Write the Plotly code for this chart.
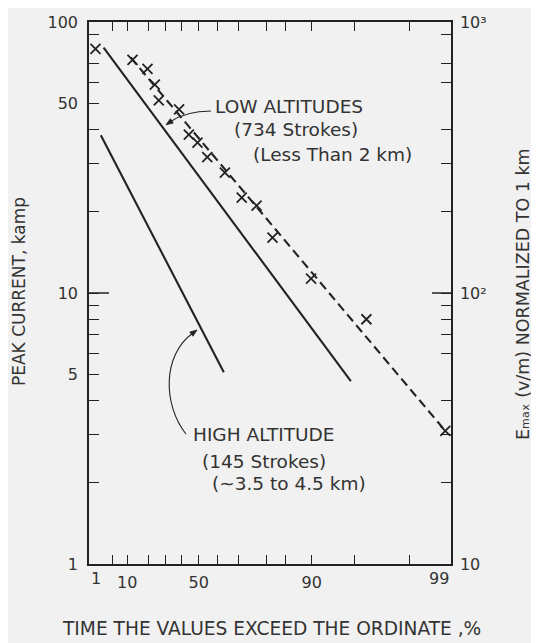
import math
from statistics import NormalDist
import plotly.graph_objects as go

# ---------------- data ----------------
low_alt_pct = [3.0, 94.7]
low_alt_kamp = [80.5, 4.73]

high_alt_pct = [2.5, 63.3]
high_alt_kamp = [38.2, 5.10]

obs_pct = [1.7, 12.2, 19.6, 23.7, 26.0, 38.3, 44.2, 49.3, 54.8, 63.8, 71.2, 76.7, 81.6, 89.9, 95.9, 98.9]
obs_kamp = [79.6, 72.5, 67.2, 58.7, 51.4, 47.6, 38.4, 35.9, 31.7, 27.8, 22.5, 21.0, 16.0, 11.3, 8.0, 3.1]

fit_pct = [11.4, 98.9]
fit_kamp = [74.0, 3.1]

x_tick_pct = [10, 50, 90]
x_tick_text = ["10", "50", "90"]
x_minor_pct = [1, 5, 20, 30, 40, 60, 70, 80, 85, 95, 98, 99]
x_range_pct = [1, 99]

y_tick_vals = [1, 5, 10, 50, 100]
y_tick_text = ["1", "5", "10", "50", "100"]
y_minor_vals = [2, 3, 4, 6, 7, 8, 9, 20, 30, 40, 60, 70, 90]

y2_tick_vals = [10, 100, 1000]
y2_tick_text = ["10", "10²", "10³"]
y2_minor_vals = [20, 30, 40, 60, 70, 80, 90, 200, 300, 400, 600, 700, 900]

# ---------------- probability scale of the abscissa ----------------
B = 0.358
ND = NormalDist()


def pscale(p):
    return math.exp(B * ND.inv_cdf(p / 100.0))


def ps(lst):
    return [pscale(p) for p in lst]


INK = "#222222"
TXT = "#333333"
FONT = "DejaVu Sans"
BG = "#f1f1f1"

fig = go.Figure()
fig.add_trace(go.Scatter(x=ps(low_alt_pct), y=low_alt_kamp, mode="lines",
                         line=dict(color=INK, width=2.1), showlegend=False))
fig.add_trace(go.Scatter(x=ps(high_alt_pct), y=high_alt_kamp, mode="lines",
                         line=dict(color=INK, width=2.1), showlegend=False))
fig.add_trace(go.Scatter(x=ps(fit_pct), y=fit_kamp, mode="lines",
                         line=dict(color=INK, width=2.1, dash="9px,5px"), showlegend=False))
fig.add_trace(go.Scatter(x=ps(obs_pct), y=obs_kamp, mode="markers",
                         marker=dict(symbol="x-thin-open", size=10, color=INK,
                                     line=dict(color=INK, width=1.8)),
                         showlegend=False))
# invisible trace so the right axis is drawn
fig.add_trace(go.Scatter(x=[pscale(50)], y=[100], yaxis="y2", mode="markers",
                         marker=dict(opacity=0), showlegend=False, hoverinfo="skip"))

W, H = 539, 643
OFF = 8  # default page margin around the figure
L, R, T, Bm = 89, 451, 22, 564  # plot box in page pixels


def pxp(x):
    return (x - L) / (R - L)


def pyp(y):
    return (Bm - y) / (Bm - T)


axis_common = dict(showgrid=False, zeroline=False, showline=True, linecolor=INK,
                   linewidth=1.5, ticks="inside", tickcolor=INK, tickwidth=1.3,
                   tickfont=dict(family=FONT, size=16, color=TXT))

fig.update_layout(
    width=W - OFF, height=H - OFF, autosize=False,
    margin=dict(l=L - OFF, r=W - R, t=T - OFF, b=H - Bm, autoexpand=False),
    paper_bgcolor=BG, plot_bgcolor=BG,
    xaxis=dict(**axis_common, type="linear", range=ps(x_range_pct),
               tickmode="array", tickvals=ps(x_tick_pct), ticktext=x_tick_text,
               ticklen=9, mirror="ticks", ticklabelstandoff=3,
               minor=dict(tickmode="array", tickvals=ps(x_minor_pct), ticks="inside",
                          ticklen=9, tickcolor=INK, tickwidth=1.3)),
    yaxis=dict(**axis_common, type="log", range=[0, 2],
               tickmode="array", tickvals=y_tick_vals, ticktext=y_tick_text,
               ticklen=10, ticklabelstandoff=6,
               minor=dict(tickmode="array", tickvals=y_minor_vals, ticks="inside",
                          ticklen=10, tickcolor=INK, tickwidth=1.3)),
    yaxis2=dict(**axis_common, type="log", range=[1, 3], overlaying="y", side="right",
                tickmode="array", tickvals=y2_tick_vals, ticktext=y2_tick_text,
                ticklen=10, ticklabelstandoff=4,
                minor=dict(tickmode="array", tickvals=y2_minor_vals, ticks="inside",
                           ticklen=10, tickcolor=INK, tickwidth=1.3)),
)

# long decade ticks (10 on the left, 10^2 on the right)
mid = (math.log10(10) - 0) / 2
fig.add_shape(type="line", xref="paper", yref="paper", x0=0, x1=pxp(L + 20), y0=mid, y1=mid,
              line=dict(color=INK, width=1.5))
fig.add_shape(type="line", xref="paper", yref="paper", x0=1, x1=pxp(R - 19), y0=mid, y1=mid,
              line=dict(color=INK, width=1.5))

annots = []
# end labels of the abscissa
annots.append(dict(text="1", x=pscale(1), xref="x", xanchor="left", y=0, yref="paper",
                   yanchor="top", yshift=-3, showarrow=False,
                   font=dict(family=FONT, size=16, color=TXT)))
annots.append(dict(text="99", x=pscale(99), xref="x", xanchor="right", y=0, yref="paper",
                   yanchor="top", yshift=-3, showarrow=False,
                   font=dict(family=FONT, size=16, color=TXT)))

# curve labels
for txt, x, y in [("LOW ALTITUDES", 213, 107), ("(734 Strokes)", 232, 130),
                  ("(Less Than 2 km)", 251, 154), ("HIGH ALTITUDE", 191, 434),
                  ("(145 Strokes)", 200, 461), ("(~3.5 to 4.5 km)", 210, 483)]:
    annots.append(dict(text=txt, x=pxp(x), y=pyp(y), xref="paper", yref="paper",
                       xanchor="left", yanchor="middle", showarrow=False,
                       font=dict(family=FONT, size=18.5, color=TXT)))

# axis titles
annots.append(dict(text="PEAK CURRENT, kamp", x=pxp(19), y=pyp(292), xref="paper", yref="paper",
                   xanchor="center", yanchor="middle",
                   textangle=-90, showarrow=False, font=dict(family=FONT, size=17, color=TXT)))
annots.append(dict(text="Eₘₐₓ (v/m) NORMALIZED TO 1 km", x=pxp(535), y=pyp(294),
                   xref="paper", yref="paper", xanchor="right", yanchor="middle",
                   textangle=-90, showarrow=False,
                   font=dict(family=FONT, size=17.5, color=TXT)))
annots.append(dict(text="TIME THE VALUES EXCEED THE ORDINATE ,%", x=pxp(271), y=pyp(628),
                   xref="paper", yref="paper", xanchor="center", yanchor="middle",
                   showarrow=False,
                   font=dict(family=FONT, size=18.6, color=TXT)))
fig.update_layout(annotations=annots)


def arrow_head(tip, tail, length=7.0, half=2.6):
    dx, dy = tip[0] - tail[0], tip[1] - tail[1]
    n = math.hypot(dx, dy)
    ux, uy = dx / n, dy / n
    bx, by = tip[0] - ux * length, tip[1] - uy * length
    p1 = (bx - uy * half, by + ux * half)
    p2 = (bx + uy * half, by - ux * half)
    path = (f"M {pxp(tip[0])} {pyp(tip[1])} L {pxp(p1[0])} {pyp(p1[1])} "
            f"L {pxp(p2[0])} {pyp(p2[1])} Z")
    fig.add_shape(type="path", xref="paper", yref="paper", path=path,
                  fillcolor=INK, line=dict(color=INK, width=0.8))


# curved leader lines with arrow heads
fig.add_shape(type="path", xref="paper", yref="paper",
              path=f"M {pxp(211)} {pyp(111)} Q {pxp(186)} {pyp(111)} {pxp(170)} {pyp(122)}",
              line=dict(color=INK, width=1.1))
arrow_head((166.0, 124.8), (172.0, 120.8))
fig.add_shape(type="path", xref="paper", yref="paper",
              path=(f"M {pxp(186)} {pyp(434)} C {pxp(163)} {pyp(405)} "
                    f"{pxp(162)} {pyp(355)} {pxp(193)} {pyp(333)}"),
              line=dict(color=INK, width=1.1))
arrow_head((197.0, 330.0), (190.5, 334.8))

fig.write_html("out.html")
